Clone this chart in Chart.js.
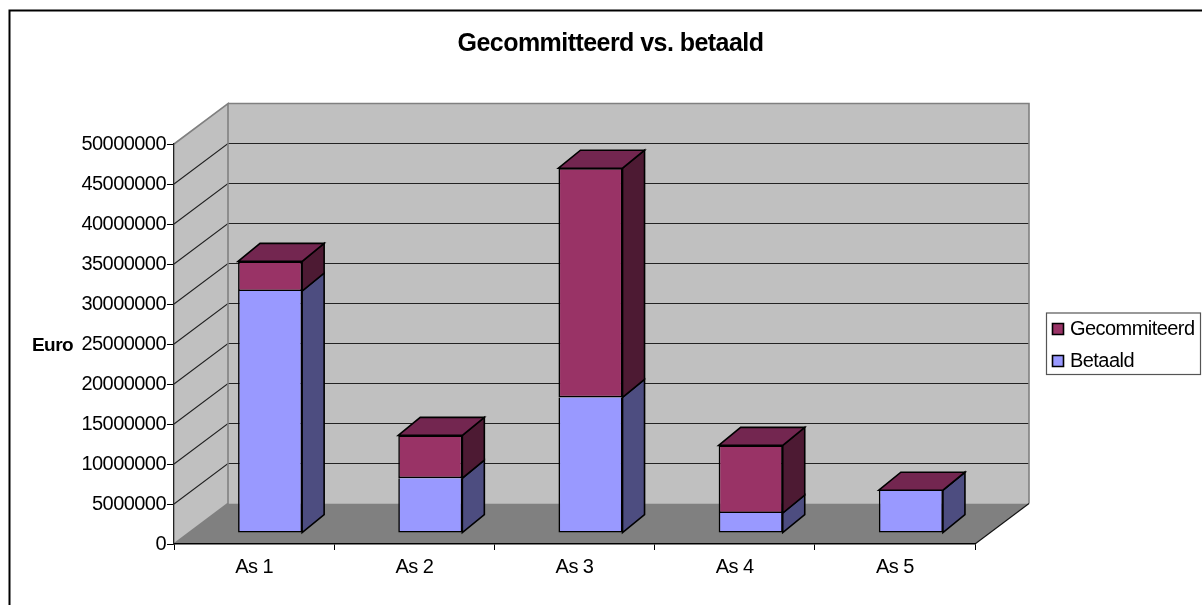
<!DOCTYPE html>
<html><head><meta charset="utf-8">
<script src="https://cdn.jsdelivr.net/npm/chart.js@4"></script>
<style>html,body{margin:0;padding:0;background:#fff;overflow:hidden}canvas{display:block}</style>
</head><body><canvas id="c" width="1202" height="605" style="width:1202px;height:605px"></canvas>
<script>
const categories = ['As 1','As 2','As 3','As 4','As 5'];
const betaald = [30250000, 6850000, 16950000, 2500000, 5350000];
const gecommitteerd = [3700000, 5350000, 28650000, 8450000, 0];
const yMax = 50000000, yStep = 5000000;
const titleText = 'Gecommitteerd vs. betaald';
const yAxisText = 'Euro';

const FONT = 'Liberation Sans';
const shift = {x:16, y:-11};     // bars stand inside the floor
const depth = {x:22, y:-18};     // bar depth
const wall = {x:54, y:-40.5};    // wall depth

function poly(ctx, pts, fill, stroke, lw){
  ctx.beginPath();
  pts.forEach((p,i)=> i?ctx.lineTo(p[0],p[1]):ctx.moveTo(p[0],p[1]));
  ctx.closePath();
  if(fill){ctx.fillStyle=fill;ctx.fill();}
  if(stroke){ctx.strokeStyle=stroke;ctx.lineWidth=lw;ctx.lineJoin='miter';ctx.stroke();}
}
const scene = {
  id:'scene',
  afterLayout(chart){
    const l = chart.legend;
    l.left=1044; l.right=1202; l.top=307; l.bottom=420; l.width=158; l.height=113;
    const t = chart.titleBlock;
    t.left=0; t.right=1221; t.width=1221;
  },
  beforeDraw(chart){
    const {ctx,chartArea:a,scales:{y}} = chart;
    ctx.letterSpacing='-0.55px';
    ctx.save();
    // frame running off the page
    ctx.strokeStyle='#000'; ctx.lineWidth=2;
    ctx.beginPath(); ctx.moveTo(9.5,606); ctx.lineTo(9.5,10.5); ctx.lineTo(1203,10.5); ctx.stroke();
    // legend box
    ctx.strokeStyle='#555'; ctx.lineWidth=1.2;
    ctx.strokeRect(1046.5,313,154,61.5);
    const L=a.left,R=a.right,T=y.getPixelForValue(yMax),B=y.getPixelForValue(0);
    // side wall, back wall, floor
    poly(ctx,[[L,B],[L,T],[L+wall.x,T+wall.y],[L+wall.x,B+wall.y]],'#c0c0c0');
    poly(ctx,[[L+wall.x,B+wall.y],[L+wall.x,T+wall.y],[R+wall.x,T+wall.y],[R+wall.x,B+wall.y]],'#c0c0c0');
    poly(ctx,[[L,B],[L+wall.x,B+wall.y],[R+wall.x,B+wall.y],[R,B]],'#808080');
    // gridlines on the walls
    for(let v=yStep;v<=yMax;v+=yStep){
      const py=Math.round(y.getPixelForValue(v));
      ctx.strokeStyle='#222'; ctx.lineWidth=1.1;
      ctx.beginPath();
      if(v<yMax){ctx.moveTo(L,py);}else{ctx.moveTo(L+wall.x,py+wall.y);}
      ctx.lineTo(L+wall.x,py+wall.y);
      ctx.lineTo(R+wall.x,py+wall.y);
      ctx.stroke();
    }
    // wall edges
    ctx.strokeStyle='#808080'; ctx.lineWidth=1.6;
    ctx.beginPath();
    ctx.moveTo(L,B);ctx.lineTo(L+wall.x,B+wall.y);ctx.lineTo(L+wall.x,T+wall.y);ctx.lineTo(L,T);
    ctx.moveTo(L+wall.x,T+wall.y);ctx.lineTo(R+wall.x,T+wall.y);ctx.lineTo(R+wall.x,B+wall.y);
    ctx.stroke();
    ctx.strokeStyle='#111'; ctx.lineWidth=1.1;
    ctx.beginPath();ctx.moveTo(R,B);ctx.lineTo(R+wall.x,B+wall.y);ctx.stroke();
    // y axis caption, horizontal
    ctx.fillStyle='#000'; ctx.font='bold 19px "'+FONT+'"';
    ctx.textAlign='left'; ctx.textBaseline='middle';
    ctx.fillText(yAxisText,32,345.5);
    ctx.restore();
  },
  beforeDatasetsDraw(chart){
    chart.ctx.save();
    chart.ctx.translate(shift.x,shift.y);
  },
  afterDatasetsDraw(chart){
    const ctx=chart.ctx;
    const faces=[{side:'#4d4d80',top:'#4d4d80'},{side:'#4d1a33',top:'#732650'}];
    chart.data.datasets.forEach((ds,di)=>{
      chart.getDatasetMeta(di).data.forEach(el=>{
        const x2=el.x+el.width/2,x1=el.x-el.width/2;
        poly(ctx,[[x2,el.y],[x2+depth.x,el.y+depth.y],[x2+depth.x,el.base+depth.y],[x2,el.base]],faces[di].side,'#000',1.6);
        if(di===chart.data.datasets.length-1){
          poly(ctx,[[x1,el.y],[x1+depth.x,el.y+depth.y],[x2+depth.x,el.y+depth.y],[x2,el.y]],faces[di].top,'#000',1.6);
        }
      });
    });
    ctx.restore();
  }
};
new Chart(document.getElementById('c'),{
  type:'bar',
  data:{labels:categories,datasets:[
    {label:'Betaald',data:betaald,backgroundColor:'#9999ff',borderColor:'#000',borderWidth:1.6,borderSkipped:'top',clip:false},
    {label:'Gecommiteerd',data:gecommitteerd,backgroundColor:'#993366',borderColor:'#000',borderWidth:1.6,borderSkipped:false,clip:false}
  ]},
  plugins:[scene],
  options:{
    responsive:false,animation:false,devicePixelRatio:1,
    layout:{padding:{left:0,right:227,top:0,bottom:0}},
    datasets:{bar:{categoryPercentage:1,barPercentage:0.4}},
    font:{family:FONT},
    scales:{
      x:{stacked:true,
        afterFit(s){s.height=61;},
        grid:{drawOnChartArea:false,tickLength:6,color:'#000',lineWidth:1},
        border:{color:'#000',width:1.5},
        ticks:{color:'#000',padding:5,font:{family:FONT,size:20},maxRotation:0}},
      y:{stacked:true,min:0,max:yMax,
        afterFit(s){s.width=174;},
        grid:{drawOnChartArea:false,tickLength:7,color:'#000',lineWidth:1},
        border:{color:'#222',width:1.3},
        ticks:{stepSize:yStep,color:'#000',padding:1,font:{family:FONT,size:20},callback:v=>String(v)}}
    },
    plugins:{
      tooltip:{enabled:false},
      title:{display:true,text:titleText,color:'#000',font:{family:FONT,size:25,weight:'bold',lineHeight:1.2},padding:{top:29,bottom:85}},
      legend:{position:'chartArea',align:'start',reverse:true,
        labels:{usePointStyle:true,pointStyle:'rect',boxWidth:4,boxHeight:11,padding:12,color:'#000',font:{family:FONT,size:20}}}
    }
  }
});
</script></body></html>
